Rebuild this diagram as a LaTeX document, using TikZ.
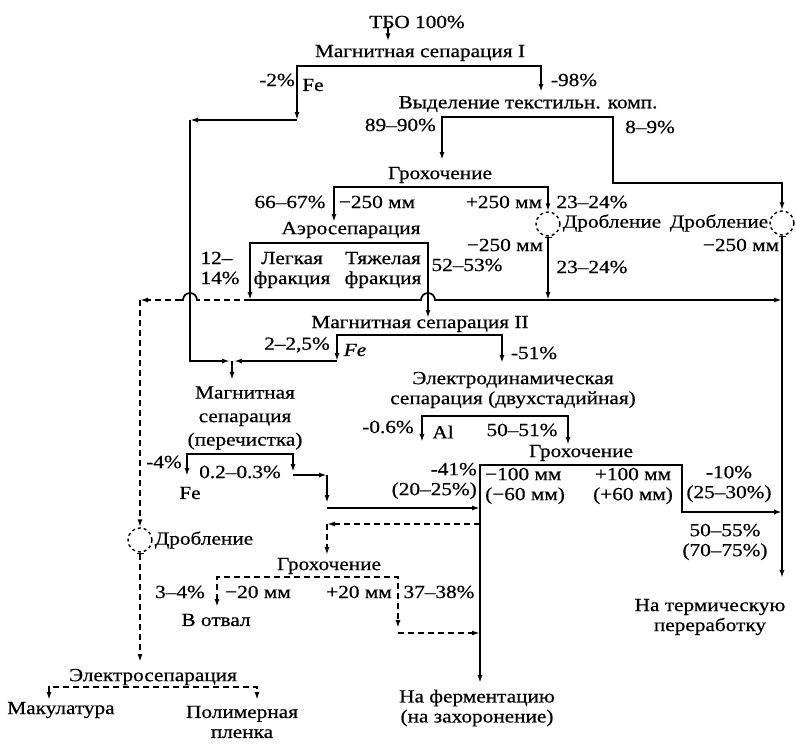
\documentclass[tikz,border=0pt]{standalone}
\usepackage{fontspec}
\setmainfont{Liberation Serif}[FakeStretch=1.15,FakeBold=0.6]
\usetikzlibrary{arrows.meta}

\tikzset{
  flow/.style={line width=1.7pt,-{Latex[length=8pt,width=5pt]}},
  rail/.style={line width=1.7pt,{Latex[length=8pt,width=5pt]}-{Latex[length=8pt,width=5pt]}},
  waste/.style={flow,dash pattern=on 6pt off 4pt},
  wasterail/.style={rail,dash pattern=on 6pt off 4pt},
  outcrush/.style={line width=1.7pt,{Bar[width=7pt,line width=1.3pt]}-{Latex[length=8pt,width=5pt]}},
  lbl/.style={inner sep=0pt,font=\fontsize{18.5}{20}\selectfont,align=center},
  crush/.style={circle,draw,dashed,line width=1.4pt,minimum size=24pt,inner sep=0pt},
}

\begin{document}
\begin{tikzpicture}[x=1pt,y=-1pt]
\useasboundingbox (0,0) rectangle (796,745);

% upper stages
\node[lbl] (tbo) at (417,22) {ТБО 100\%};
\node[lbl] (ms1) at (420,53) {Магнитная сепарация I};
\node[lbl] (p2) at (277,80) {-2\%};
\node[lbl] (fe1) at (313,85) {Fe};
\node[lbl] (p98) at (574,80) {-98\%};
\node[lbl] (tex) at (528,104) {Выделение текстильн. комп.};
\node[lbl,anchor=east] (p89) at (436,125) {89–90\%};
\node[lbl] (p8) at (650,127) {8–9\%};
\node[lbl] (gr1) at (440,175) {Грохочение};
\node[lbl] (p66) at (290,202) {66–67\%};
\node[lbl] (m250a) at (377,202) {−250 мм};
\node[lbl] (pl250) at (504,202) {+250 мм};
\node[lbl] (p23a) at (592,202) {23–24\%};
\node[crush] (dr1) at (548,224) {};
\node[lbl] (dr1t) at (612,223) {Дробление};
\node[crush] (dr2) at (782,223) {};
\node[lbl] (dr2t) at (719,223) {Дробление};
\node[lbl] (m250b) at (505,245) {−250 мм};
\node[lbl] (m250c) at (741,245) {−250 мм};
\node[lbl] (p23b) at (592,267) {23–24\%};
\node[lbl] (p52) at (467,265) {52–53\%};
\node[lbl] (aero) at (351,230) {Аэросепарация};
\node[lbl,align=left] (p12) at (220,268) {12–\\14\%};
\node[lbl] (light) at (292,270) {Легкая\\фракция};
\node[lbl] (heavy) at (383,270) {Тяжелая\\фракция};

% middle stages
\node[lbl] (ms2) at (420,324) {Магнитная сепарация II};
\node[lbl] (p25) at (297,345) {2–2,5\%};
\node[lbl] (fe2) at (355,350) {\itshape Fe};
\node[lbl] (p51) at (534,353) {-51\%};
\node[lbl] (eds) at (513,390) {Электродинамическая\\сепарация (двухстадийная)};
\node[lbl] (p06) at (388,427) {-0.6\%};
\node[lbl] (al) at (443,432) {Al};
\node[lbl] (p50) at (522,430) {50–51\%};
\node[lbl] (gr2) at (581,453) {Грохочение};
\node[lbl,align=right,anchor=east] (p41) at (477,481) {-41\%\\(20–25\%)};
\node[lbl,align=left,anchor=west] (m100) at (485,486) {−100 мм\\(−60 мм)};
\node[lbl] (pl100) at (633,486) {+100 мм\\(+60 мм)};
\node[lbl] (p10) at (729,484) {-10\%\\(25–30\%)};
\node[lbl] (p55) at (725,542) {50–55\%\\(70–75\%)};
\node[lbl] (therm) at (710,617) {На термическую\\переработку};

% cleaning and waste
\node[lbl,font=\fontsize{18.5}{23.5}\selectfont] (ms3) at (245,418) {Магнитная\\сепарация\\(перечистка)};
\node[lbl] (p4) at (164,462) {-4\%};
\node[lbl] (p02) at (240,472) {0.2–0.3\%};
\node[lbl] (fe3) at (190,493) {Fe};
\node[crush] (dr3) at (140,540) {};
\node[lbl] (dr3t) at (204,540) {Дробление};
\node[lbl] (gr3) at (329,566) {Грохочение};
\node[lbl] (p3) at (180,592) {3–4\%};
\node[lbl] (m20) at (258,592) {−20 мм};
\node[lbl] (pl20) at (359,592) {+20 мм};
\node[lbl] (p37) at (439,592) {37–38\%};
\node[lbl] (dump) at (216,620) {В отвал};
\node[lbl] (es) at (153,677) {Электросепарация};
\node[lbl] (paper) at (61,710) {Макулатура};
\node[lbl] (film) at (242,722) {Полимерная\\пленка};
\node[lbl] (ferm) at (477,708) {На ферментацию\\(на захоронение)};

% junctions
\coordinate (fe1d) at (297,120);
\coordinate (k1) at (190,120);
\coordinate (k2) at (190,361);
\coordinate (mrg) at (232,361);
\coordinate (fe2d) at (337,361);
\coordinate (jL) at (250,300);
\coordinate (jR) at (782,300);

% solid flows
\draw[flow] ([xshift=-29pt]tbo.south) -- ++(0,13);
\draw[rail] (fe1d) -- (297,66) -- (541,66) -- (541,92);
\draw[flow] (fe1d) -- (k1);
\draw[flow] (k1) -- (k2) -- ([xshift=-2pt]mrg);
\draw[rail] (442,160) -- (442,117) -- (613,117) -- (613,183) -- (782,183) -- (dr2.north);
\draw[rail] (334,222) -- (334,187) -- (548,187) -- (dr1.north);
\draw[outcrush] (dr1.south) -- (dr1.south |- jL);
\draw[outcrush] (dr2.south) -- (782,578);
\draw[rail] (jL) -- (250,243) -- (428,243) -- (428,318);
\draw[flow] (jL) -- (421,300) arc[start angle=180,end angle=360,radius=7] -- (jR);
\draw[rail] (fe2d) -- (337,335) -- (502,335) -- (502,363);
\draw[flow] (fe2d) -- ([xshift=2pt]mrg);
\draw[flow] (mrg) -- (232,380);
\draw[rail] (422,442) -- (422,416) -- (568,416) -- (568,445);
\draw[rail] (480,683) -- (480,465) -- (682,465) -- (682,512) -- (782,512);
\draw[rail] (187,476) -- (187,454) -- (293,454) -- (293,472);
\draw[flow] (293,475) -- (327,475);
\draw[flow] (327,475) -- (327,503);
\draw[flow] (327,508) -- (480,508);

% dashed flows
\draw[line width=1.7pt,dash pattern=on 6pt off 4pt] (jL) -- (199,300);
\draw[line width=1.7pt] (199,300) -- (197,300) arc[start angle=0,end angle=-180,radius=7] -- (181,300);
\draw[waste] (181,300) -- (140,300);
\draw[waste] (140,300) -- (dr3.north);
\draw[outcrush,dash pattern=on 6pt off 4pt] (dr3.south) -- (140,662);
\draw[waste] (480,524) -- (327,524);
\draw[waste] (327,524) -- (327,555);
\draw[wasterail] (217,607) -- (217,577) -- (398,577) -- (398,628);
\draw[waste] (398,633) -- (480,633);
\draw[wasterail] (49,700) -- (49,687) -- (257,687) -- (257,700);

\end{tikzpicture}
\end{document}
